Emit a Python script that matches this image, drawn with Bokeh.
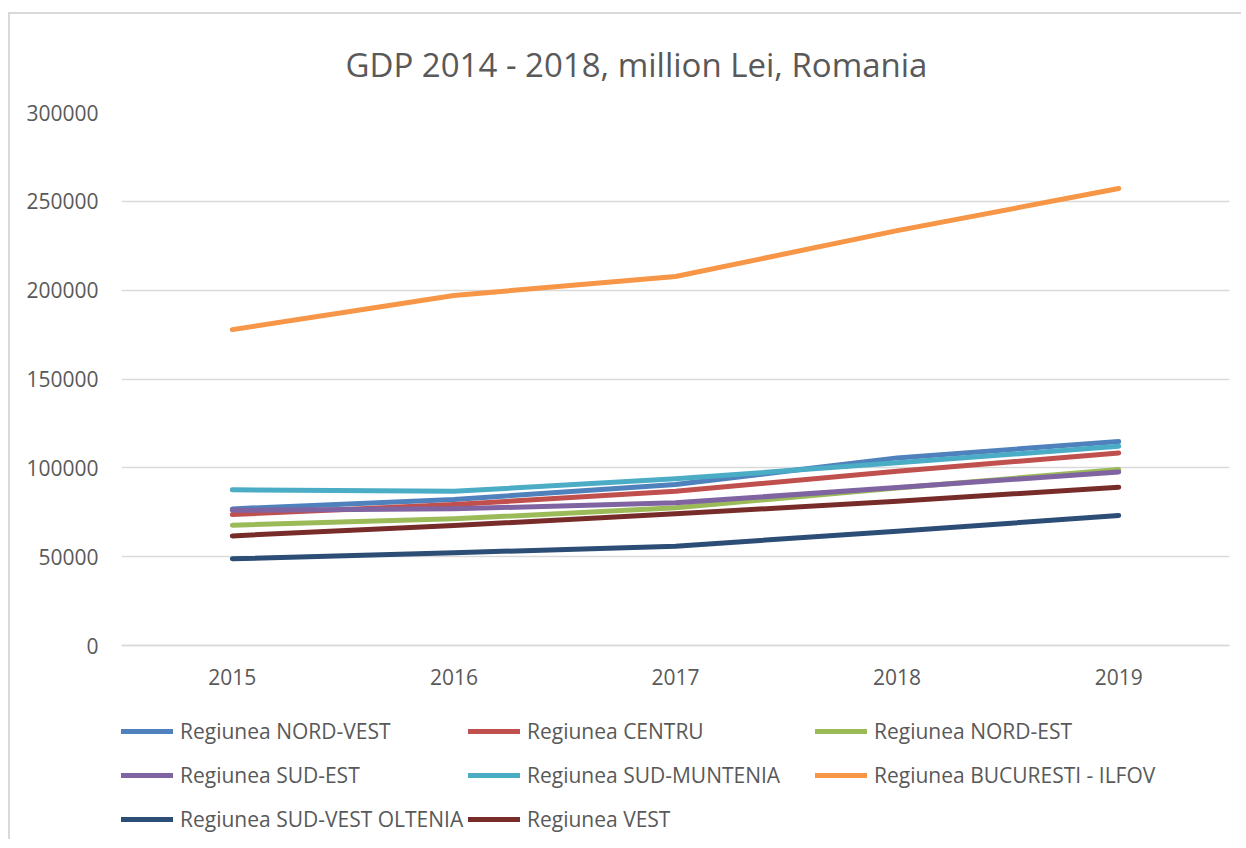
from bokeh.plotting import figure
from bokeh.models import Legend, LegendItem, FactorRange, Range1d, NumeralTickFormatter, FixedTicker
from bokeh.embed import file_html
from bokeh.resources import INLINE

years = ["2015", "2016", "2017", "2018", "2019"]
nord_vest = [76900, 82200, 90600, 105600, 114800]
centru = [73700, 79300, 86800, 98100, 108400]
nord_est = [67700, 71300, 77500, 88700, 99000]
sud_est = [76100, 76900, 80300, 88900, 97700]
sud_muntenia = [87600, 86800, 93800, 102800, 112200]
bucuresti_ilfov = [177800, 197000, 207700, 233500, 257200]
sud_vest_oltenia = [48800, 52200, 55900, 64300, 73200]
vest = [61700, 67500, 74100, 81200, 89100]
y_ticks = [0, 50000, 100000, 150000, 200000, 250000, 300000]

series = [
    ("Regiunea NORD-VEST", nord_vest, "#4F81BD"),
    ("Regiunea CENTRU", centru, "#C0504D"),
    ("Regiunea NORD-EST", nord_est, "#9BBB59"),
    ("Regiunea SUD-EST", sud_est, "#8064A2"),
    ("Regiunea SUD-MUNTENIA", sud_muntenia, "#4BACC6"),
    ("Regiunea BUCURESTI - ILFOV", bucuresti_ilfov, "#F79646"),
    ("Regiunea SUD-VEST OLTENIA", sud_vest_oltenia, "#2C4D75"),
    ("Regiunea VEST", vest, "#772C2A"),
]

FONT = "Open Sans"
GRAY = "#595959"

# frame spans from the 300000 gridline down to the bottom of the legend area
FRAME_H = 727
PX_PER_UNIT = 533 / 300000
y_bottom = -(FRAME_H - 533) / PX_PER_UNIT

p = figure(frame_width=1108, frame_height=FRAME_H, x_range=FactorRange(*years),
           y_range=Range1d(y_bottom, 300000),
           output_backend="svg", toolbar_location=None,
           min_border_left=111, min_border_right=12, min_border_top=98, min_border_bottom=0)
p.title.text = "GDP 2014 - 2018, million Lei, Romania"
p.title.align = "left"
p.title.text_font = FONT
p.title.text_font_size = "33px"
p.title.text_font_style = "normal"
p.title.text_color = GRAY
p.title.offset = 224
p.title.standoff = 51

p.outline_line_color = None
p.xgrid.grid_line_color = None
p.ygrid.grid_line_color = "#d9d9d9"
p.ygrid.grid_line_width = 1.5

p.yaxis.ticker = FixedTicker(ticks=y_ticks)
p.yaxis.formatter = NumeralTickFormatter(format="0")
p.yaxis.axis_line_color = None
p.yaxis.major_tick_line_color = None
p.yaxis.minor_tick_line_color = None
p.yaxis.major_tick_out = 0
p.yaxis.major_tick_in = 0
p.yaxis.major_label_standoff = 23
p.yaxis.major_label_text_font = FONT
p.yaxis.major_label_text_font_size = "21px"
p.yaxis.major_label_text_color = GRAY

p.xaxis.fixed_location = 0
p.xaxis.axis_line_color = "#d9d9d9"
p.xaxis.axis_line_width = 1.5
p.xaxis.major_tick_line_color = None
p.xaxis.minor_tick_line_color = None
p.xaxis.major_tick_out = 0
p.xaxis.major_tick_in = 0
p.xaxis.major_label_standoff = 23
p.xaxis.major_label_text_font = FONT
p.xaxis.major_label_text_font_size = "21px"
p.xaxis.major_label_text_color = GRAY

items = []
for name, vals, color in series:
    r = p.line(years, vals, line_color=color, line_width=5, line_cap="round", line_join="round")
    items.append(LegendItem(label=name, renderers=[r]))

legend = Legend(items=items, ncols=3, orientation="horizontal", location="bottom_left",
                label_text_font=FONT, label_text_font_size="21px", label_text_color=GRAY,
                glyph_width=52, glyph_height=40, label_height=40, label_standoff=7,
                label_width=284, spacing=4, padding=0, margin=0,
                border_line_color=None, background_fill_alpha=0)
p.add_layout(legend, "center")
p.margin = (12, 0, 0, 8)
p.styles = {"border-top": "2px solid #d9d9d9", "border-left": "2px solid #d9d9d9"}

open("out.html", "w").write(file_html(p, INLINE))
